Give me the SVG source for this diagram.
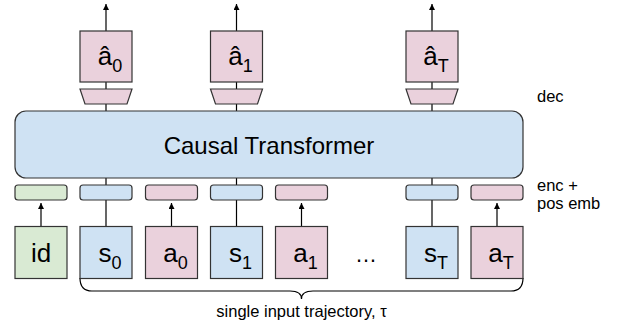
<svg xmlns="http://www.w3.org/2000/svg" width="621" height="329" viewBox="0 0 621 329">
<style>
.box{stroke:#333;stroke-width:1.2}
.pink{fill:#ead1dc}
.blue{fill:#cfe2f3}
.green{fill:#d9ead3}
.ln{stroke:#000;stroke-width:1.2;fill:none}
.lbl{font-family:"Liberation Sans",Arial,sans-serif;font-size:26px;fill:#000;text-anchor:middle}
.sub{font-size:18px}
.side{font-family:"Liberation Sans",Arial,sans-serif;font-size:16.5px;fill:#000}
</style>
<defs>
<marker id="ah" viewBox="0 0 10 10" refX="10" refY="5" markerWidth="7" markerHeight="6" markerUnits="userSpaceOnUse" orient="auto">
<path d="M0,0 L10,5 L0,10 z" fill="#000"/>
</marker>
</defs>
<rect width="621" height="329" fill="#fff"/>
<g id="connectors">
<line class="ln" x1="106" y1="31" x2="106" y2="4" marker-end="url(#ah)"/>
<line class="ln" x1="236.5" y1="31" x2="236.5" y2="4" marker-end="url(#ah)"/>
<line class="ln" x1="432" y1="31" x2="432" y2="4" marker-end="url(#ah)"/>
<line class="ln" x1="106" y1="82" x2="106" y2="89"/>
<line class="ln" x1="236.5" y1="82" x2="236.5" y2="89"/>
<line class="ln" x1="432" y1="82" x2="432" y2="89"/>
<line class="ln" x1="106" y1="104" x2="106" y2="111"/>
<line class="ln" x1="236.5" y1="104" x2="236.5" y2="111"/>
<line class="ln" x1="432" y1="104" x2="432" y2="111"/>
<line class="ln" x1="106" y1="226.5" x2="106" y2="200"/>
<line class="ln" x1="236.5" y1="226.5" x2="236.5" y2="200"/>
<line class="ln" x1="432" y1="226.5" x2="432" y2="200"/>
<line class="ln" x1="106" y1="185" x2="106" y2="178"/>
<line class="ln" x1="236.5" y1="185" x2="236.5" y2="178"/>
<line class="ln" x1="432" y1="185" x2="432" y2="178"/>
<line class="ln" x1="41" y1="226.5" x2="41" y2="203" marker-end="url(#ah)"/>
<line class="ln" x1="171.5" y1="226.5" x2="171.5" y2="203" marker-end="url(#ah)"/>
<line class="ln" x1="301.5" y1="226.5" x2="301.5" y2="203" marker-end="url(#ah)"/>
<line class="ln" x1="497" y1="226.5" x2="497" y2="203" marker-end="url(#ah)"/>
<path class="ln" d="M80,278 Q80,291 92,291 L290,291 Q301.5,291 301.5,299 Q301.5,291 313,291 L511,291 Q523,291 523,278"/>
</g>
<g id="out0"><rect class="box pink" x="80" y="31" width="52" height="51"/><text class="lbl" x="110" y="65">â<tspan class="sub" dy="7">0</tspan></text></g>
<g id="out1"><rect class="box pink" x="210.5" y="31" width="52" height="51"/><text class="lbl" x="240.5" y="65">â<tspan class="sub" dy="7">1</tspan></text></g>
<g id="outT"><rect class="box pink" x="406" y="31" width="52" height="51"/><text class="lbl" x="436" y="65">â<tspan class="sub" dy="7">T</tspan></text></g>
<g id="dec0"><path class="box pink" d="M80,89 L132,89 L127,104 L85,104 Z"/></g>
<g id="dec1"><path class="box pink" d="M210.5,89 L262.5,89 L257.5,104 L215.5,104 Z"/></g>
<g id="decT"><path class="box pink" d="M406,89 L458,89 L453,104 L411,104 Z"/></g>
<g id="transformer"><rect class="box blue" x="15" y="111" width="508" height="67" rx="11"/><text class="lbl" x="269" y="154" style="font-size:24px">Causal Transformer</text></g>
<g id="enc-id"><rect class="box green" x="15" y="185" width="52" height="15" rx="3"/></g>
<g id="enc-s0"><rect class="box blue" x="80" y="185" width="52" height="15" rx="3"/></g>
<g id="enc-a0"><rect class="box pink" x="145.5" y="185" width="52" height="15" rx="3"/></g>
<g id="enc-s1"><rect class="box blue" x="210.5" y="185" width="52" height="15" rx="3"/></g>
<g id="enc-a1"><rect class="box pink" x="275.5" y="185" width="52" height="15" rx="3"/></g>
<g id="enc-sT"><rect class="box blue" x="406" y="185" width="52" height="15" rx="3"/></g>
<g id="enc-aT"><rect class="box pink" x="471" y="185" width="52" height="15" rx="3"/></g>
<g id="in-id"><rect class="box green" x="15" y="226.5" width="52" height="52"/><text class="lbl" x="41" y="262">id</text></g>
<g id="in-s0"><rect class="box blue" x="80" y="226.5" width="52" height="52"/><text class="lbl" x="110" y="262">s<tspan class="sub" dy="7">0</tspan></text></g>
<g id="in-a0"><rect class="box pink" x="145.5" y="226.5" width="52" height="52"/><text class="lbl" x="175.5" y="262">a<tspan class="sub" dy="7">0</tspan></text></g>
<g id="in-s1"><rect class="box blue" x="210.5" y="226.5" width="52" height="52"/><text class="lbl" x="240.5" y="262">s<tspan class="sub" dy="7">1</tspan></text></g>
<g id="in-a1"><rect class="box pink" x="275.5" y="226.5" width="52" height="52"/><text class="lbl" x="305.5" y="262">a<tspan class="sub" dy="7">1</tspan></text></g>
<g id="ellipsis"><text class="lbl" x="366" y="262" style="font-size:22px">…</text></g>
<g id="in-sT"><rect class="box blue" x="406" y="226.5" width="52" height="52"/><text class="lbl" x="436" y="262">s<tspan class="sub" dy="7">T</tspan></text></g>
<g id="in-aT"><rect class="box pink" x="471" y="226.5" width="52" height="52"/><text class="lbl" x="501" y="262">a<tspan class="sub" dy="7">T</tspan></text></g>
<g id="labels">
<text class="side" x="537" y="102">dec</text>
<text class="side" x="537" y="191">enc +</text>
<text class="side" x="537" y="209">pos emb</text>
<text class="side" x="301.5" y="317" text-anchor="middle">single input trajectory, τ</text>
</g>
</svg>
